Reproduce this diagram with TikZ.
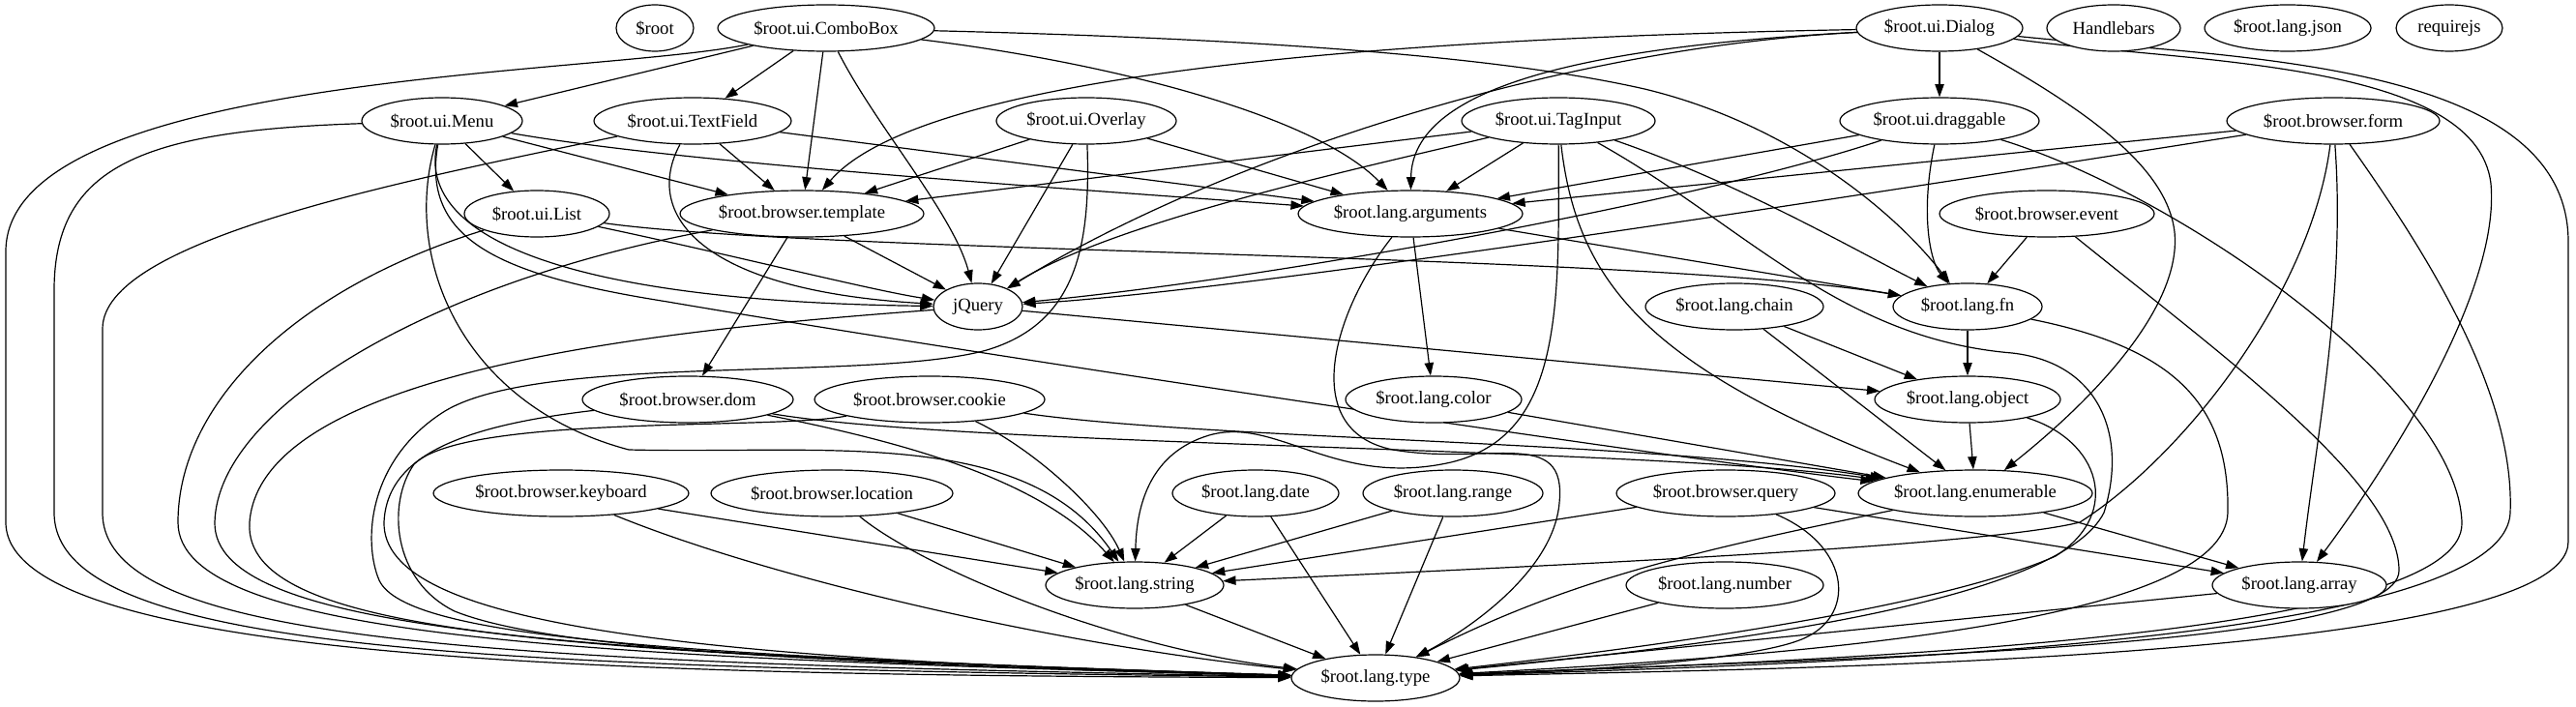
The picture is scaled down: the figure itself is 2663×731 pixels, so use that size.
\documentclass[tikz,border=0pt]{standalone}
\usepackage{fontspec}
\setmainfont{Liberation Serif}
\usetikzlibrary{arrows.meta,shapes.geometric}
\pgfdeclarelayer{background}
\pgfsetlayers{background,main}
\newcommand\gnode[5]{\node[nd,minimum width=#4pt] (#1) at (#2,#3) {#5};}
\begin{document}
\begin{tikzpicture}[x=0.75pt,y=-0.75pt,
  nd/.style={ellipse,draw,line width=0.9pt,inner sep=0pt,minimum height=36pt,
    font=\fontsize{14}{16}\selectfont,fill=white},
  e/.style={line width=0.9pt,-{Triangle[length=10pt,width=7pt]}}]
\useasboundingbox (0,0) rectangle (2663,731);
% rank 0
\gnode{root}{677}{29}{60}{\$root}
\gnode{combo}{854}{29}{168}{\$root.ui.ComboBox}
\gnode{dialog}{2005}{29}{129}{\$root.ui.Dialog}
\gnode{handlebars}{2185}{29}{103.5}{Handlebars}
\gnode{json}{2365}{29}{129}{\$root.lang.json}
\gnode{requirejs}{2532}{29}{82.5}{requirejs}
% rank 1
\gnode{menu}{457}{125}{124.5}{\$root.ui.Menu}
\gnode{textfield}{716}{125}{153}{\$root.ui.TextField}
\gnode{overlay}{1123}{125}{139.5}{\$root.ui.Overlay}
\gnode{taginput}{1611}{125}{150}{\$root.ui.TagInput}
\gnode{draggable}{2005}{125}{154.5}{\$root.ui.draggable}
\gnode{form}{2412}{125}{165}{\$root.browser.form}
% rank 2
\gnode{list}{555}{221}{112.5}{\$root.ui.List}
\gnode{template}{829}{221}{189}{\$root.browser.template}
\gnode{arguments}{1458}{221}{174}{\$root.lang.arguments}
\gnode{event}{2116}{221}{166.5}{\$root.browser.event}
% rank 3
\gnode{jquery}{1011}{317}{69}{jQuery}
\gnode{chain}{1793}{317}{138}{\$root.lang.chain}
\gnode{fn}{2034}{317}{115.5}{\$root.lang.fn}
% rank 4
\gnode{dom}{711}{413}{163.5}{\$root.browser.dom}
\gnode{cookie}{961}{413}{178.5}{\$root.browser.cookie}
\gnode{color}{1482}{413}{136.5}{\$root.lang.color}
\gnode{object}{2034}{413}{144}{\$root.lang.object}
% rank 5
\gnode{keyboard}{580}{510}{198}{\$root.browser.keyboard}
\gnode{location}{860}{510}{187.5}{\$root.browser.location}
\gnode{date}{1298}{510}{129}{\$root.lang.date}
\gnode{range}{1502}{510}{139.5}{\$root.lang.range}
\gnode{query}{1784}{510}{169.5}{\$root.browser.query}
\gnode{enumerable}{2042}{510}{181.5}{\$root.lang.enumerable}
% rank 6
\gnode{string}{1173}{605}{138}{\$root.lang.string}
\gnode{number}{1783}{605}{153}{\$root.lang.number}
\gnode{array}{2377}{605}{135}{\$root.lang.array}
% rank 7
\gnode{type}{1422}{701}{130.5}{\$root.lang.type}

\begin{pgfonlayer}{background}
\fill[white] (0,0) rectangle (2663,731);
% ComboBox
\draw[e] (combo) -- (menu);
\draw[e] (combo) -- (textfield);
\draw[e] (combo) -- (template);
\draw[e] (combo) .. controls (905,130) and (985,220) .. (jquery);
\draw[e] (combo) .. controls (1150,65) and (1360,120) .. (arguments);
\draw[e] (combo) .. controls (1300,40) and (1550,58) .. (1700,92) .. controls (1850,128) and (1960,220) .. (fn);
\draw[e] (combo) .. controls (620,78) and (6,75) .. (6,260) -- (6,540) .. controls (6,690) and (700,698) .. (type);
% Menu
\draw[e] (menu) -- (list);
\draw[e] (menu) -- (template);
\draw[e] (menu) .. controls (700,168) and (1100,195) .. (arguments);
\draw[e] (menu) .. controls (430,250) and (600,312) .. (jquery);
\draw[e] (menu) .. controls (435,250) and (520,285) .. (690,312) .. controls (1000,365) and (1700,470) .. (enumerable);
\draw[e] (menu) .. controls (415,270) and (480,420) .. (650,465) .. controls (850,470) and (1060,440) .. (string);
\draw[e] (menu) .. controls (150,135) and (56,170) .. (56,300) -- (56,530) .. controls (56,675) and (500,690) .. (type);
% TextField
\draw[e] (textfield) -- (template);
\draw[e] (textfield) -- (arguments);
\draw[e] (textfield) .. controls (665,220) and (720,300) .. (jquery);
\draw[e] (textfield) .. controls (400,190) and (106,250) .. (106,340) -- (106,530) .. controls (106,665) and (500,685) .. (type);
% List
\draw[e] (list) .. controls (750,262) and (900,300) .. (jquery);
\draw[e] (list) .. controls (850,262) and (1700,262) .. (fn);
\draw[e] (list) .. controls (300,300) and (184,420) .. (184,540) .. controls (184,660) and (600,680) .. (type);
% template
\draw[e] (template) -- (jquery);
\draw[e] (template) -- (dom);
\draw[e] (template) .. controls (450,290) and (225,420) .. (222,540) .. controls (220,655) and (600,675) .. (type);
% jQuery
\draw[e] (jquery) -- (object);
\draw[e] (jquery) .. controls (700,340) and (270,380) .. (258,540) .. controls (250,660) and (600,675) .. (type);
% Overlay
\draw[e] (overlay) -- (template);
\draw[e] (overlay) -- (jquery);
\draw[e] (overlay) -- (arguments);
\draw[e] (overlay) .. controls (1128,260) and (1110,335) .. (1020,362) .. controls (900,395) and (560,365) .. (460,425) .. controls (380,475) and (375,560) .. (392,600) .. controls (420,660) and (700,678) .. (type);
% TagInput
\draw[e] (taginput) -- (template);
\draw[e] (taginput) .. controls (1400,175) and (1150,230) .. (jquery);
\draw[e] (taginput) -- (arguments);
\draw[e] (taginput) .. controls (1800,190) and (1920,260) .. (fn);
\draw[e] (taginput) .. controls (1630,290) and (1700,380) .. (enumerable);
\draw[e] (taginput) .. controls (1612,320) and (1615,450) .. (1500,478) .. controls (1380,505) and (1320,430) .. (1250,450) .. controls (1190,468) and (1175,520) .. (string);
\draw[e] (taginput) .. controls (1800,230) and (1900,350) .. (2080,365) .. controls (2170,375) and (2200,450) .. (2175,530) .. controls (2130,620) and (1800,665) .. (type);
% Dialog
\draw[e] (dialog) -- (draggable);
\draw[e] (dialog) .. controls (1400,40) and (950,80) .. (template);
\draw[e] (dialog) .. controls (1600,50) and (1250,170) .. (jquery);
\draw[e] (dialog) .. controls (1600,50) and (1460,100) .. (arguments);
\draw[e] (dialog) .. controls (2150,110) and (2240,170) .. (2248,240) .. controls (2255,310) and (2180,400) .. (enumerable);
\draw[e] (dialog) .. controls (2250,65) and (2560,60) .. (2575,190) .. controls (2585,300) and (2470,480) .. (array);
\draw[e] (dialog) .. controls (2300,60) and (2655,60) .. (2655,250) -- (2655,560) .. controls (2655,685) and (1800,692) .. (type);
% draggable
\draw[e] (draggable) -- (arguments);
\draw[e] (draggable) .. controls (1750,210) and (1300,290) .. (jquery);
\draw[e] (draggable) .. controls (1985,220) and (1995,270) .. (fn);
\draw[e] (draggable) .. controls (2250,200) and (2540,400) .. (2545,540) .. controls (2550,660) and (1900,682) .. (type);
% form
\draw[e] (form) -- (arguments);
\draw[e] (form) .. controls (2000,190) and (1300,300) .. (jquery);
\draw[e] (form) .. controls (2390,300) and (2260,470) .. (2150,540) .. controls (2050,565) and (1600,585) .. (string);
\draw[e] (form) .. controls (2425,300) and (2395,450) .. (array);
\draw[e] (form) .. controls (2500,250) and (2600,400) .. (2595,530) .. controls (2590,665) and (1900,686) .. (type);
% event
\draw[e] (event) -- (fn);
\draw[e] (event) .. controls (2300,370) and (2480,500) .. (2480,590) .. controls (2480,672) and (1900,680) .. (type);
% arguments
\draw[e] (arguments) -- (fn);
\draw[e] (arguments) -- (color);
\draw[e] (arguments) .. controls (1380,320) and (1340,445) .. (1440,465) .. controls (1540,482) and (1620,440) .. (1612,520) .. controls (1606,590) and (1520,650) .. (type);
% color, chain, fn, object
\draw[e] (color) -- (enumerable);
\draw[e] (chain) -- (object);
\draw[e] (chain) -- (enumerable);
\draw[e] (fn) -- (object);
\draw[e] (fn) .. controls (2250,360) and (2305,420) .. (2303,530) .. controls (2300,640) and (1900,676) .. (type);
\draw[e] (object) -- (enumerable);
\draw[e] (object) .. controls (2170,455) and (2195,530) .. (2125,575) .. controls (2000,630) and (1700,670) .. (type);
% enumerable
\draw[e] (enumerable) -- (array);
\draw[e] (enumerable) .. controls (1750,570) and (1620,600) .. (type);
% query
\draw[e] (query) -- (string);
\draw[e] (query) -- (array);
\draw[e] (query) .. controls (1915,565) and (1920,640) .. (1860,662) .. controls (1800,685) and (1600,695) .. (type);
% lower nodes
\draw[e] (number) -- (type);
\draw[e] (array) -- (type);
\draw[e] (string) -- (type);
\draw[e] (date) -- (string);
\draw[e] (date) -- (type);
\draw[e] (range) -- (string);
\draw[e] (range) -- (type);
\draw[e] (location) -- (string);
\draw[e] (location) .. controls (950,585) and (1150,670) .. (type);
\draw[e] (keyboard) -- (string);
\draw[e] (keyboard) .. controls (800,600) and (1100,668) .. (type);
% cookie
\draw[e] (cookie) .. controls (1070,465) and (1140,530) .. (string);
\draw[e] (cookie) .. controls (1250,455) and (1700,455) .. (enumerable);
\draw[e] (cookie) .. controls (800,445) and (480,428) .. (428,480) .. controls (400,520) and (405,600) .. (470,632) .. controls (560,668) and (800,685) .. (type);
% dom
\draw[e] (dom) .. controls (950,460) and (1080,500) .. (string);
\draw[e] (dom) .. controls (1000,462) and (1700,462) .. (enumerable);
\draw[e] (dom) .. controls (480,440) and (400,470) .. (397,540) .. controls (395,645) and (700,682) .. (type);
\end{pgfonlayer}
\end{tikzpicture}
\end{document}
